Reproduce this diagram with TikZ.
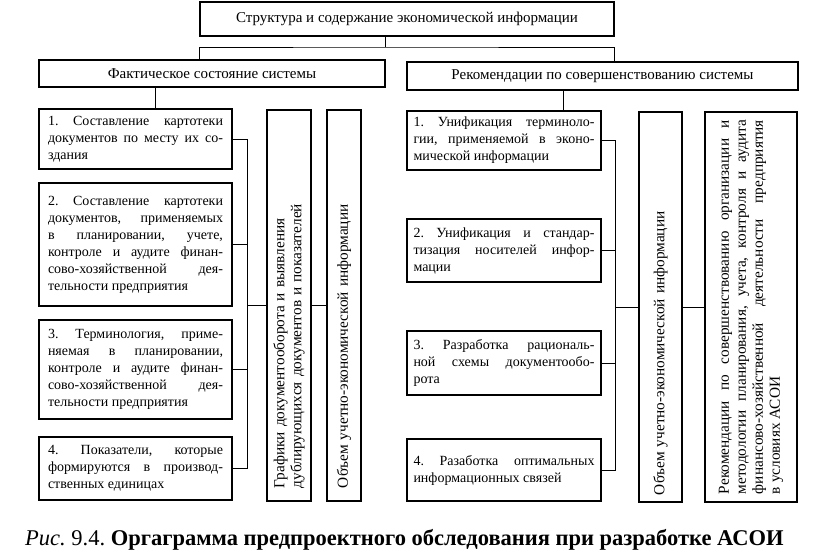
\documentclass[tikz,border=0pt]{standalone}
\usepackage{fontspec}
\setmainfont{Liberation Serif}
\frenchspacing
\tikzset{
  box/.style={rectangle,draw=black,line width=1.3pt,inner sep=0pt,
    font=\fontsize{14}{17}\selectfont},
  head/.style={box,font=\fontsize{15}{17}\selectfont},
  item/.style={box,align=justify},
  vbox/.style={box,rotate=90,font=\fontsize{15.3}{17}\selectfont},
  link/.style={draw=black,line width=0.5pt},
}
\begin{document}
\begin{tikzpicture}[x=1pt,y=-1pt]
      \useasboundingbox (0,0) rectangle (816,556);

      % top levels
      \node[head,minimum width=414pt,minimum height=34pt] (T) at (407,19){Структура и содержание экономической информации};
      \node[head,minimum width=346pt,minimum height=27pt] (F) at (212,73.5){Фактическое состояние системы};
      \node[head,minimum width=391pt,minimum height=28pt] (R) at (602.5,76){Рекомендации по совершенствованию системы};

      % left column
      \node[item,text width=175pt,minimum width=193pt,minimum height=60pt] (L1) at (135.5,139){1. Составление картотеки\linebreak документов по месту их со-\linebreak здания};
      \node[item,text width=175pt,minimum width=193pt,minimum height=123pt] (L2) at (135.5,244.5){2. Составление картотеки\linebreak документов, применяемых\linebreak в планировании, учете,\linebreak контроле и аудите финан-\linebreak сово-хозяйственной дея-\linebreak тельности предприятия};
      \node[item,text width=175pt,minimum width=193pt,minimum height=99pt] (L3) at (135.5,369.5){3. Терминология, приме-\linebreak няемая в планировании,\linebreak контроле и аудите финан-\linebreak сово-хозяйственной дея-\linebreak тельности предприятия};
      \node[item,text width=175pt,minimum width=193pt,minimum height=63pt] (L4) at (135.5,468.5){4. Показатели, которые\linebreak формируются в производ-\linebreak ственных единицах};

      \node[vbox,align=left,text width=365pt,minimum width=391pt,minimum height=44pt] (G) at (289,305.5){Графики документооборота и выявления\\дублирующихся документов и показателей};
      \node[vbox,align=left,text width=365pt,minimum width=391pt,minimum height=34pt] (O1) at (344,305.5){Объем учетно-экономической информации};

      % right column
      \node[item,text width=181pt,minimum width=194pt,minimum height=59pt] (R1) at (504,140.5){1. Унификация терминоло-\linebreak гии, применяемой в эконо-\linebreak мической информации};
      \node[item,text width=181pt,minimum width=194pt,minimum height=63pt] (R2) at (504,250.5){2. Унификация и стандар-\linebreak тизация носителей инфор-\linebreak мации};
      \node[item,text width=181pt,minimum width=194pt,minimum height=64pt] (R3) at (504,363){3. Разработка рациональ-\linebreak ной схемы документообо-\linebreak рота};
      \node[item,text width=181pt,minimum width=194pt,minimum height=62pt] (R4) at (504,470){4. Разаботка оптимальных\linebreak информационных связей};

      \node[vbox,align=left,text width=376pt,minimum width=390pt,minimum height=43pt] (O2) at (660.5,307){Объем учетно-экономической информации};
      \node[vbox,align=justify,text width=374pt,minimum width=390pt,minimum height=92pt] (RR) at (751,307){Рекомендации по совершенствованию организации и\linebreak методологии планирования, учета, контроля и аудита\linebreak финансово-хозяйственной деятельности предприятия\linebreak в условиях АСОИ};

      % connectors
      \coordinate (hub) at (385,47);
      \coordinate (fl) at (155,0);
      \coordinate (rl) at (563,0);
      \coordinate (lb) at (247,0);
      \coordinate (rb) at (615,0);

      \draw[link] (T.south -| hub) -- (hub);
      \draw[link] (F.north -| T.west) |- (hub) -| (R.north -| T.east);
      \draw[link] (F.south -| fl) -- (L1.north -| fl);
      \draw[link] (R.south -| rl) -- (R1.north -| rl);

      \draw[link] (L1.east) -- (L1.east -| lb) -- (L4.east -| lb) -- (L4.east);
      \foreach \n in {L2,L3} \draw[link] (\n.east) -- (\n.east -| lb);
      \draw[link] (G.north -| lb) -- (G.north);
      \draw[link] (G.south) -- (O1.north);

      \draw[link] (R1.east) -- (R1.east -| rb) -- (R4.east -| rb) -- (R4.east);
      \foreach \n in {R2,R3} \draw[link] (\n.east) -- (\n.east -| rb);
      \draw[link] (O2.north -| rb) -- (O2.north);
      \draw[link] (O2.south) -- (RR.north);

      % caption
      \node[anchor=base west,inner sep=0pt,font=\fontsize{22.5}{26}\selectfont] (cap) at (25,545){\textit{Рис.} 9.4. \textbf{Оргаграмма предпроектного обследования при разработке АСОИ}};

\end{tikzpicture}
\end{document}
